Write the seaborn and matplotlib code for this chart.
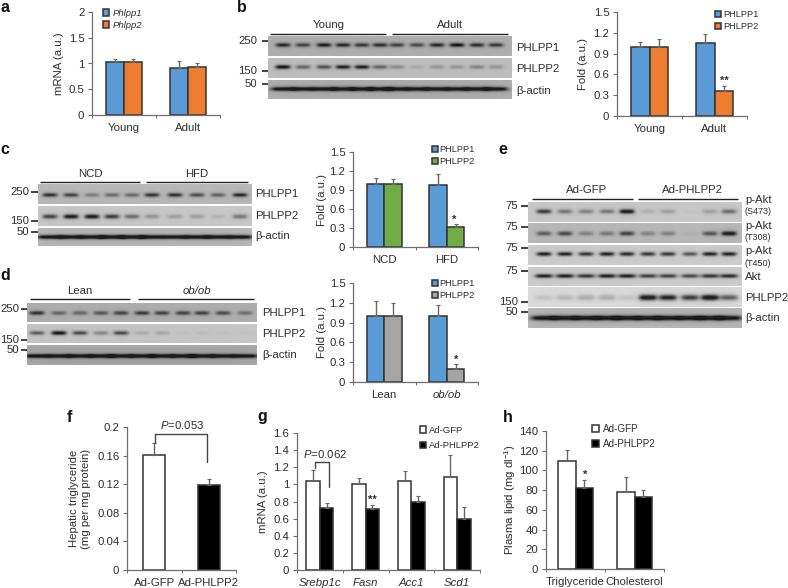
import numpy as np
import pandas as pd
import matplotlib
matplotlib.use("Agg")
import matplotlib.pyplot as plt
import seaborn as sns

W, H = 788, 588

sns.set_theme(style="white")
plt.rcParams["font.family"] = ["Liberation Sans", "DejaVu Sans"]
plt.rcParams["mathtext.fontset"] = "custom"
plt.rcParams["mathtext.it"] = "Liberation Sans:italic"
plt.rcParams["mathtext.rm"] = "Liberation Sans"
plt.rcParams["mathtext.default"] = "regular"

TXT = "#2e2e2e"
AXC = "#6f6f6f"
BLUE = "#5b9bd5"
ORANGE = "#ed7d31"
GREEN = "#70ad47"
GREY = "#a5a5a5"
FS = 8.2

# bar values, "top" = upper end of the error bar
a_groups = ["Young", "Adult"]
a_phlpp1 = [1.02, 0.92]
a_phlpp2 = [1.03, 0.93]
a_phlpp1_top = [1.09, 1.04]
a_phlpp2_top = [1.08, 1.00]

b_groups = ["Young", "Adult"]
b_phlpp1 = [1.00, 1.05]
b_phlpp2 = [1.00, 0.36]
b_phlpp1_top = [1.07, 1.18]
b_phlpp2_top = [1.11, 0.43]

c_groups = ["NCD", "HFD"]
c_phlpp1 = [1.00, 0.98]
c_phlpp2 = [1.00, 0.31]
c_phlpp1_top = [1.09, 1.15]
c_phlpp2_top = [1.08, 0.36]

d_groups = ["Lean", "ob/ob"]
d_phlpp1 = [1.00, 1.00]
d_phlpp2 = [1.00, 0.20]
d_phlpp1_top = [1.23, 1.16]
d_phlpp2_top = [1.19, 0.27]

f_groups = ["Ad-GFP", "Ad-PHLPP2"]
f_values = [0.161, 0.119]
f_tops = [0.178, 0.127]

g_groups = ["Srebp1c", "Fasn", "Acc1", "Scd1"]
g_gfp = [1.04, 1.01, 1.04, 1.09]
g_phlpp2 = [0.72, 0.71, 0.79, 0.59]
g_gfp_top = [1.17, 1.08, 1.16, 1.34]
g_phlpp2_top = [0.78, 0.76, 0.86, 0.73]

h_groups = ["Triglyceride", "Cholesterol"]
h_gfp = [110, 78]
h_phlpp2 = [82.5, 73]
h_gfp_top = [121, 93]
h_phlpp2_top = [90, 80]

# band darkness per lane for the blots, 0 = no band
b_p1 = [.75, .6, .8, .75, .65, .7, .6, .55, .75, .85, .7, .65]
b_p2 = [.9, .45, .55, .8, .8, .45, .25, .1, .2, .2, .3, .2]
b_actin = [.95] * 12

c_p1 = [.7, .6, .3, .4, .4, .7, .7, .55, .45, .75]
c_p2 = [.65, .9, .9, .7, .45, .25, .2, .2, .1, .4]
c_actin = [.95] * 10

d_p1 = [.7, .4, .4, .5, .6, .65, .6, .6, .6, .55, .35]
d_p2 = [.5, .9, .6, .3, .6, .12, .15, .03, .05, .03, .02]
d_actin = [.95] * 11

e_s473 = [.7, .4, .35, .4, .95, .1, .2, .03, .2, .45]
e_t308 = [.5, .6, .3, .35, .65, .3, .3, .05, .55, .95]
e_t450 = [.8, .8, .7, .8, .75, .7, .7, .55, .8, .8]
e_akt = [.8, .8, .7, .8, .8, .65, .65, .6, .7, .75]
e_p2 = [.1, .15, .2, .2, .1, .95, .85, .7, .98, .55]
e_actin = [.95] * 10

b_lanes = [283, 303, 324, 343, 362, 380, 397, 417, 437, 457, 477, 496]
c_lanes = [50, 71, 92, 112, 132, 152, 175, 197, 218, 240]
d_lanes = [37, 59, 80, 101, 121, 142, 162, 183, 202, 223, 245]
e_lanes = [544, 565, 586, 607, 627, 648, 668, 690, 710, 729]

fig = plt.figure(figsize=(W / 100, H / 100), dpi=100)


def px_axes(x0, ytop, x1, ybot):
    return fig.add_axes([x0 / W, 1 - ybot / H, (x1 - x0) / W, (ybot - ytop) / H])


def long_table(groups, names, columns):
    rows = []
    for name, col in zip(names, columns):
        for g, v in zip(groups, col):
            rows.append({"group": g, "series": name, "value": v})
    return pd.DataFrame(rows)


def bar_panel(box, df, names, colors, tops, yticks, ylabels, ylabel, ylabel_x, width, italic_x=False):
    ax = px_axes(*box)
    sns.barplot(data=df, x="group", y="value", hue="series", hue_order=names,
                palette=dict(zip(names, colors)), width=width, gap=0, saturation=1,
                errorbar=None, edgecolor="#333333", linewidth=1.1, legend=False, ax=ax)
    for cont, col in zip(ax.containers, tops):
        for bar, top in zip(cont, col):
            xc = bar.get_x() + bar.get_width() / 2
            ax.errorbar([xc], [bar.get_height()], yerr=[[0], [top - bar.get_height()]],
                        fmt="none", ecolor="#666666", elinewidth=1.0, capsize=1.6, capthick=0.8, zorder=1)
    n = df["group"].nunique()
    ax.set_xlim(-0.5, n - 0.5)
    ax.set_ylim(yticks[0], yticks[-1])
    ax.set_yticks(yticks)
    ax.set_yticklabels(ylabels)
    ax.set_xticks(np.arange(n + 1) - 0.5, minor=True)
    ax.tick_params(axis="x", which="major", length=0, pad=5.5, labelsize=FS, labelcolor=TXT)
    ax.tick_params(axis="x", which="minor", bottom=True, length=2.2, width=0.7, color=AXC)
    ax.tick_params(axis="y", left=True, length=3, width=0.8, color=AXC, pad=2.5, labelsize=FS, labelcolor=TXT)
    if italic_x:
        for t in ax.get_xticklabels():
            t.set_fontstyle("italic")
    ax.set_xlabel("")
    ax.set_ylabel(ylabel, fontsize=FS, color=TXT, linespacing=1.35, va="center")
    ax.yaxis.set_label_coords((ylabel_x - box[0]) / (box[2] - box[0]), 0.5)
    sns.despine(ax=ax)
    for s in ("left", "bottom"):
        ax.spines[s].set_color(AXC)
        ax.spines[s].set_linewidth(0.9)
    ax.patch.set_alpha(0)
    return ax


def key(ax, x, y, labels, size, spacing, italic=False, textpad=0.4):
    leg = ax.legend(ax.containers[:2], labels, loc="upper left", bbox_to_anchor=(x / W, 1 - y / H),
                    bbox_transform=fig.transFigure, frameon=False, borderaxespad=0, borderpad=0,
                    fontsize=size, handlelength=0.68, handleheight=0.68, handletextpad=textpad,
                    labelspacing=spacing, labelcolor=TXT)
    if italic:
        for t in leg.get_texts():
            t.set_fontstyle("italic")


def blot_row(x0, ytop, x1, ybot, lanes, darkness, band_y, bg, band_w=7.5, band_h=2.0):
    # one blot strip, one pixel per image cell
    ax = px_axes(x0, ytop, x1, ybot)
    xs, ys = np.meshgrid(np.arange(x0, x1) + 0.5, np.arange(ytop, ybot) + 0.5)
    img = np.full(xs.shape, float(bg))
    total = np.zeros(xs.shape)
    for lx, d in zip(lanes, darkness):
        total += d * np.exp(-((xs - lx) / band_w) ** 4) * np.exp(-((ys - band_y) / band_h) ** 2)
        # faint smear round each band
        total += 0.06 * d * np.exp(-((xs - lx) / (band_w * 1.3)) ** 2) * np.exp(-((ys - band_y) / (band_h * 3)) ** 2)
    img = img * (1 - np.clip(total, 0, 0.85))
    ax.imshow(img, cmap="gray", vmin=0, vmax=1, aspect="auto", interpolation="bilinear")
    ax.axis("off")


# bar panels
ticks_fold = [0, 0.3, 0.6, 0.9, 1.2, 1.5]
labels_fold = ["0", "0.3", "0.6", "0.9", "1.2", "1.5"]
names_p = ["PHLPP1", "PHLPP2"]
names_ad = ["Ad-GFP", "Ad-PHLPP2"]

df_a = long_table(a_groups, ["Phlpp1", "Phlpp2"], [a_phlpp1, a_phlpp2])
ax_a = bar_panel((92, 12, 220, 115), df_a, ["Phlpp1", "Phlpp2"], [BLUE, ORANGE],
                 [a_phlpp1_top, a_phlpp2_top], [0, 0.5, 1, 1.5, 2], ["0", "0.5", "1", "1.5", "2"],
                 "mRNA (a.u.)", 59, 0.57)
key(ax_a, 103, 9, ["Phlpp1", "Phlpp2"], 6.8, 0.32, italic=True)

df_b = long_table(b_groups, names_p, [b_phlpp1, b_phlpp2])
ax_b = bar_panel((617, 12, 747, 116), df_b, names_p, [BLUE, ORANGE],
                 [b_phlpp1_top, b_phlpp2_top], ticks_fold, labels_fold, "Fold (a.u.)", 583, 0.57)
key(ax_b, 715, 10, names_p, 6.7, 0.32, textpad=0.25)

df_c = long_table(c_groups, names_p, [c_phlpp1, c_phlpp2])
ax_c = bar_panel((353, 152, 478, 247), df_c, names_p, [BLUE, GREEN],
                 [c_phlpp1_top, c_phlpp2_top], ticks_fold, labels_fold, "Fold (a.u.)", 322, 0.56)
key(ax_c, 432, 145, names_p, 6.7, 0.32, textpad=0.1)

df_d = long_table(d_groups, names_p, [d_phlpp1, d_phlpp2])
ax_d = bar_panel((353, 283, 478, 382), df_d, names_p, [BLUE, GREY],
                 [d_phlpp1_top, d_phlpp2_top], ticks_fold, labels_fold, "Fold (a.u.)", 322, 0.56)
ax_d.get_xticklabels()[1].set_fontstyle("italic")
key(ax_d, 432, 279, names_p, 6.7, 0.32, textpad=0.1)

df_f = pd.DataFrame({"group": f_groups, "series": f_groups, "value": f_values})
bar_panel((127, 427, 236, 570), df_f, f_groups, ["white", "black"],
          [[f_tops[0]], [f_tops[1]]], [0, 0.04, 0.08, 0.12, 0.16, 0.2],
          ["0", "0.04", "0.08", "0.12", "0.16", "0.2"],
          "Hepatic triglyceride\n(mg per mg protein)", 80, 0.4)

df_g = long_table(g_groups, names_ad, [g_gfp, g_phlpp2])
ax_g = bar_panel((297, 433, 480, 570), df_g, names_ad, ["white", "black"],
                 [g_gfp_top, g_phlpp2_top], [0, 0.2, 0.4, 0.6, 0.8, 1, 1.2, 1.4, 1.6],
                 ["0", "0.2", "0.4", "0.6", "0.8", "1", "1.2", "1.4", "1.6"],
                 "mRNA (a.u.)", 263, 0.59, italic_x=True)
key(ax_g, 420, 426, names_ad, 6.8, 0.65, textpad=0.25)

df_h = long_table(h_groups, names_ad, [h_gfp, h_phlpp2])
ax_h = bar_panel((546, 431, 664, 569), df_h, names_ad, ["white", "black"],
                 [h_gfp_top, h_phlpp2_top], [0, 20, 40, 60, 80, 100, 120, 140],
                 ["0", "20", "40", "60", "80", "100", "120", "140"],
                 "Plasma lipid (mg dl$^{-1}$)", 510, 0.58)
key(ax_h, 592, 424, names_ad, 7.1, 0.5)

# blots
blot_row(268, 36, 512, 56, b_lanes, b_p1, 45, .68)
blot_row(268, 58, 512, 78, b_lanes, b_p2, 67, .74)
blot_row(268, 80, 512, 99, b_lanes, b_actin, 89, .68, band_w=12)

blot_row(38, 184, 252, 204, c_lanes, c_p1, 195, .72)
blot_row(38, 206, 252, 226, c_lanes, c_p2, 217, .78)
blot_row(38, 228, 252, 246, c_lanes, c_actin, 237, .72, band_w=13)

blot_row(27, 303, 257, 322, d_lanes, d_p1, 313, .68)
blot_row(27, 324, 257, 343, d_lanes, d_p2, 333, .77)
blot_row(27, 345, 257, 365, d_lanes, d_actin, 356, .66, band_w=13)

blot_row(528, 202, 742, 222, e_lanes, e_s473, 212, .78)
blot_row(528, 223, 742, 243, e_lanes, e_t308, 234, .72)
blot_row(528, 245, 742, 265, e_lanes, e_t450, 254, .8)
blot_row(528, 267, 742, 286, e_lanes, e_akt, 276, .8, band_w=9)
blot_row(528, 287, 742, 307, e_lanes, e_p2, 298, .85, band_w=9, band_h=2.6)
blot_row(528, 308, 742, 328, e_lanes, e_actin, 318, .72, band_w=13, band_h=2.4)

# overlay in pixel coordinates for labels and annotation lines
ov = fig.add_axes([0, 0, 1, 1], zorder=10)
ov.set_xlim(0, W)
ov.set_ylim(H, 0)
ov.axis("off")


def label(x, y, s, size=FS, ha="left", **kw):
    ov.text(x, y, s, fontsize=size, ha=ha, va="center", color=kw.pop("color", TXT), **kw)


def rule(x0, x1, y, color="#222222", lw=1.0):
    ov.plot([x0, x1], [y, y], color=color, lw=lw, solid_capstyle="butt")


for s, x, y in [("a", 5, 7), ("b", 242, 7), ("c", 5, 150), ("d", 5, 275),
                ("e", 503, 149), ("f", 69, 417), ("g", 262, 416), ("h", 508, 417)]:
    ov.text(x, y, s, fontsize=11.5, fontweight="bold", ha="center", va="center", color="#111111")

# blot headers
for x0, x1, y in [(270, 386, 33.5), (392, 508, 33.5), (40, 140, 182), (146, 248, 182),
                  (30, 130, 299), (138, 254, 299), (532, 633, 199), (638, 738, 199)]:
    rule(x0, x1, y)
label(329, 24.5, "Young", ha="center")
label(450, 24.5, "Adult", ha="center")
label(90, 174, "NCD", ha="center")
label(197, 174, "HFD", ha="center")
label(80, 291, "Lean", ha="center")
label(197, 291, "ob/ob", ha="center", style="italic")
label(587, 190, "Ad-GFP", ha="center")
label(692, 190, "Ad-PHLPP2", ha="center")

# molecular weight marks
for s, y, tx, t0, t1 in [("250", 41, 257, 262, 268), ("150", 71, 257, 262, 268), ("50", 84, 257, 262, 268),
                         ("250", 192, 29, 31, 38), ("150", 221, 29, 31, 38), ("50", 232, 29, 31, 38),
                         ("250", 309, 19, 21, 27), ("150", 340, 19, 21, 27), ("50", 350, 19, 21, 27),
                         ("75", 206, 518, 521, 528), ("75", 227, 518, 521, 528), ("75", 248, 518, 521, 528),
                         ("75", 271, 518, 521, 528), ("150", 302, 518, 521, 528), ("50", 312, 518, 521, 528)]:
    label(tx, y, s, ha="right")
    rule(t0, t1, y, lw=1.2)

# blot row names
for s, x, y in [("PHLPP1", 516, 48), ("PHLPP2", 516, 69), ("β-actin", 516, 91),
                ("PHLPP1", 255, 194), ("PHLPP2", 255, 216), ("β-actin", 255, 236),
                ("PHLPP1", 262, 313), ("PHLPP2", 262, 334), ("β-actin", 262, 355),
                ("p-Akt", 745, 200), ("p-Akt", 745, 226), ("p-Akt", 745, 251),
                ("Akt", 745, 277), ("PHLPP2", 745, 298), ("β-actin", 745, 318)]:
    label(x, y, s)
for s, y in [("(S473)", 212), ("(T308)", 238), ("(T450)", 263)]:
    label(745, y, s, size=6.5)

# significance marks
for s, x, y in [("**", 724, 80), ("*", 454, 219), ("*", 456, 359), ("**", 372, 499), ("*", 585, 474)]:
    label(x, y + 1, s, size=8, ha="center", fontweight="bold")

# p value brackets
ov.plot([155, 155, 207, 207], [443, 434, 434, 462], color="#444444", lw=1.0)
label(182, 425, "$\\mathit{P}$=0.053", ha="center")
ov.plot([315, 315, 329, 329], [468, 462, 462, 487], color="#444444", lw=1.0)
label(325, 454, "$\\mathit{P}$=0.062", ha="center")

fig.savefig("out.png", dpi=100)
